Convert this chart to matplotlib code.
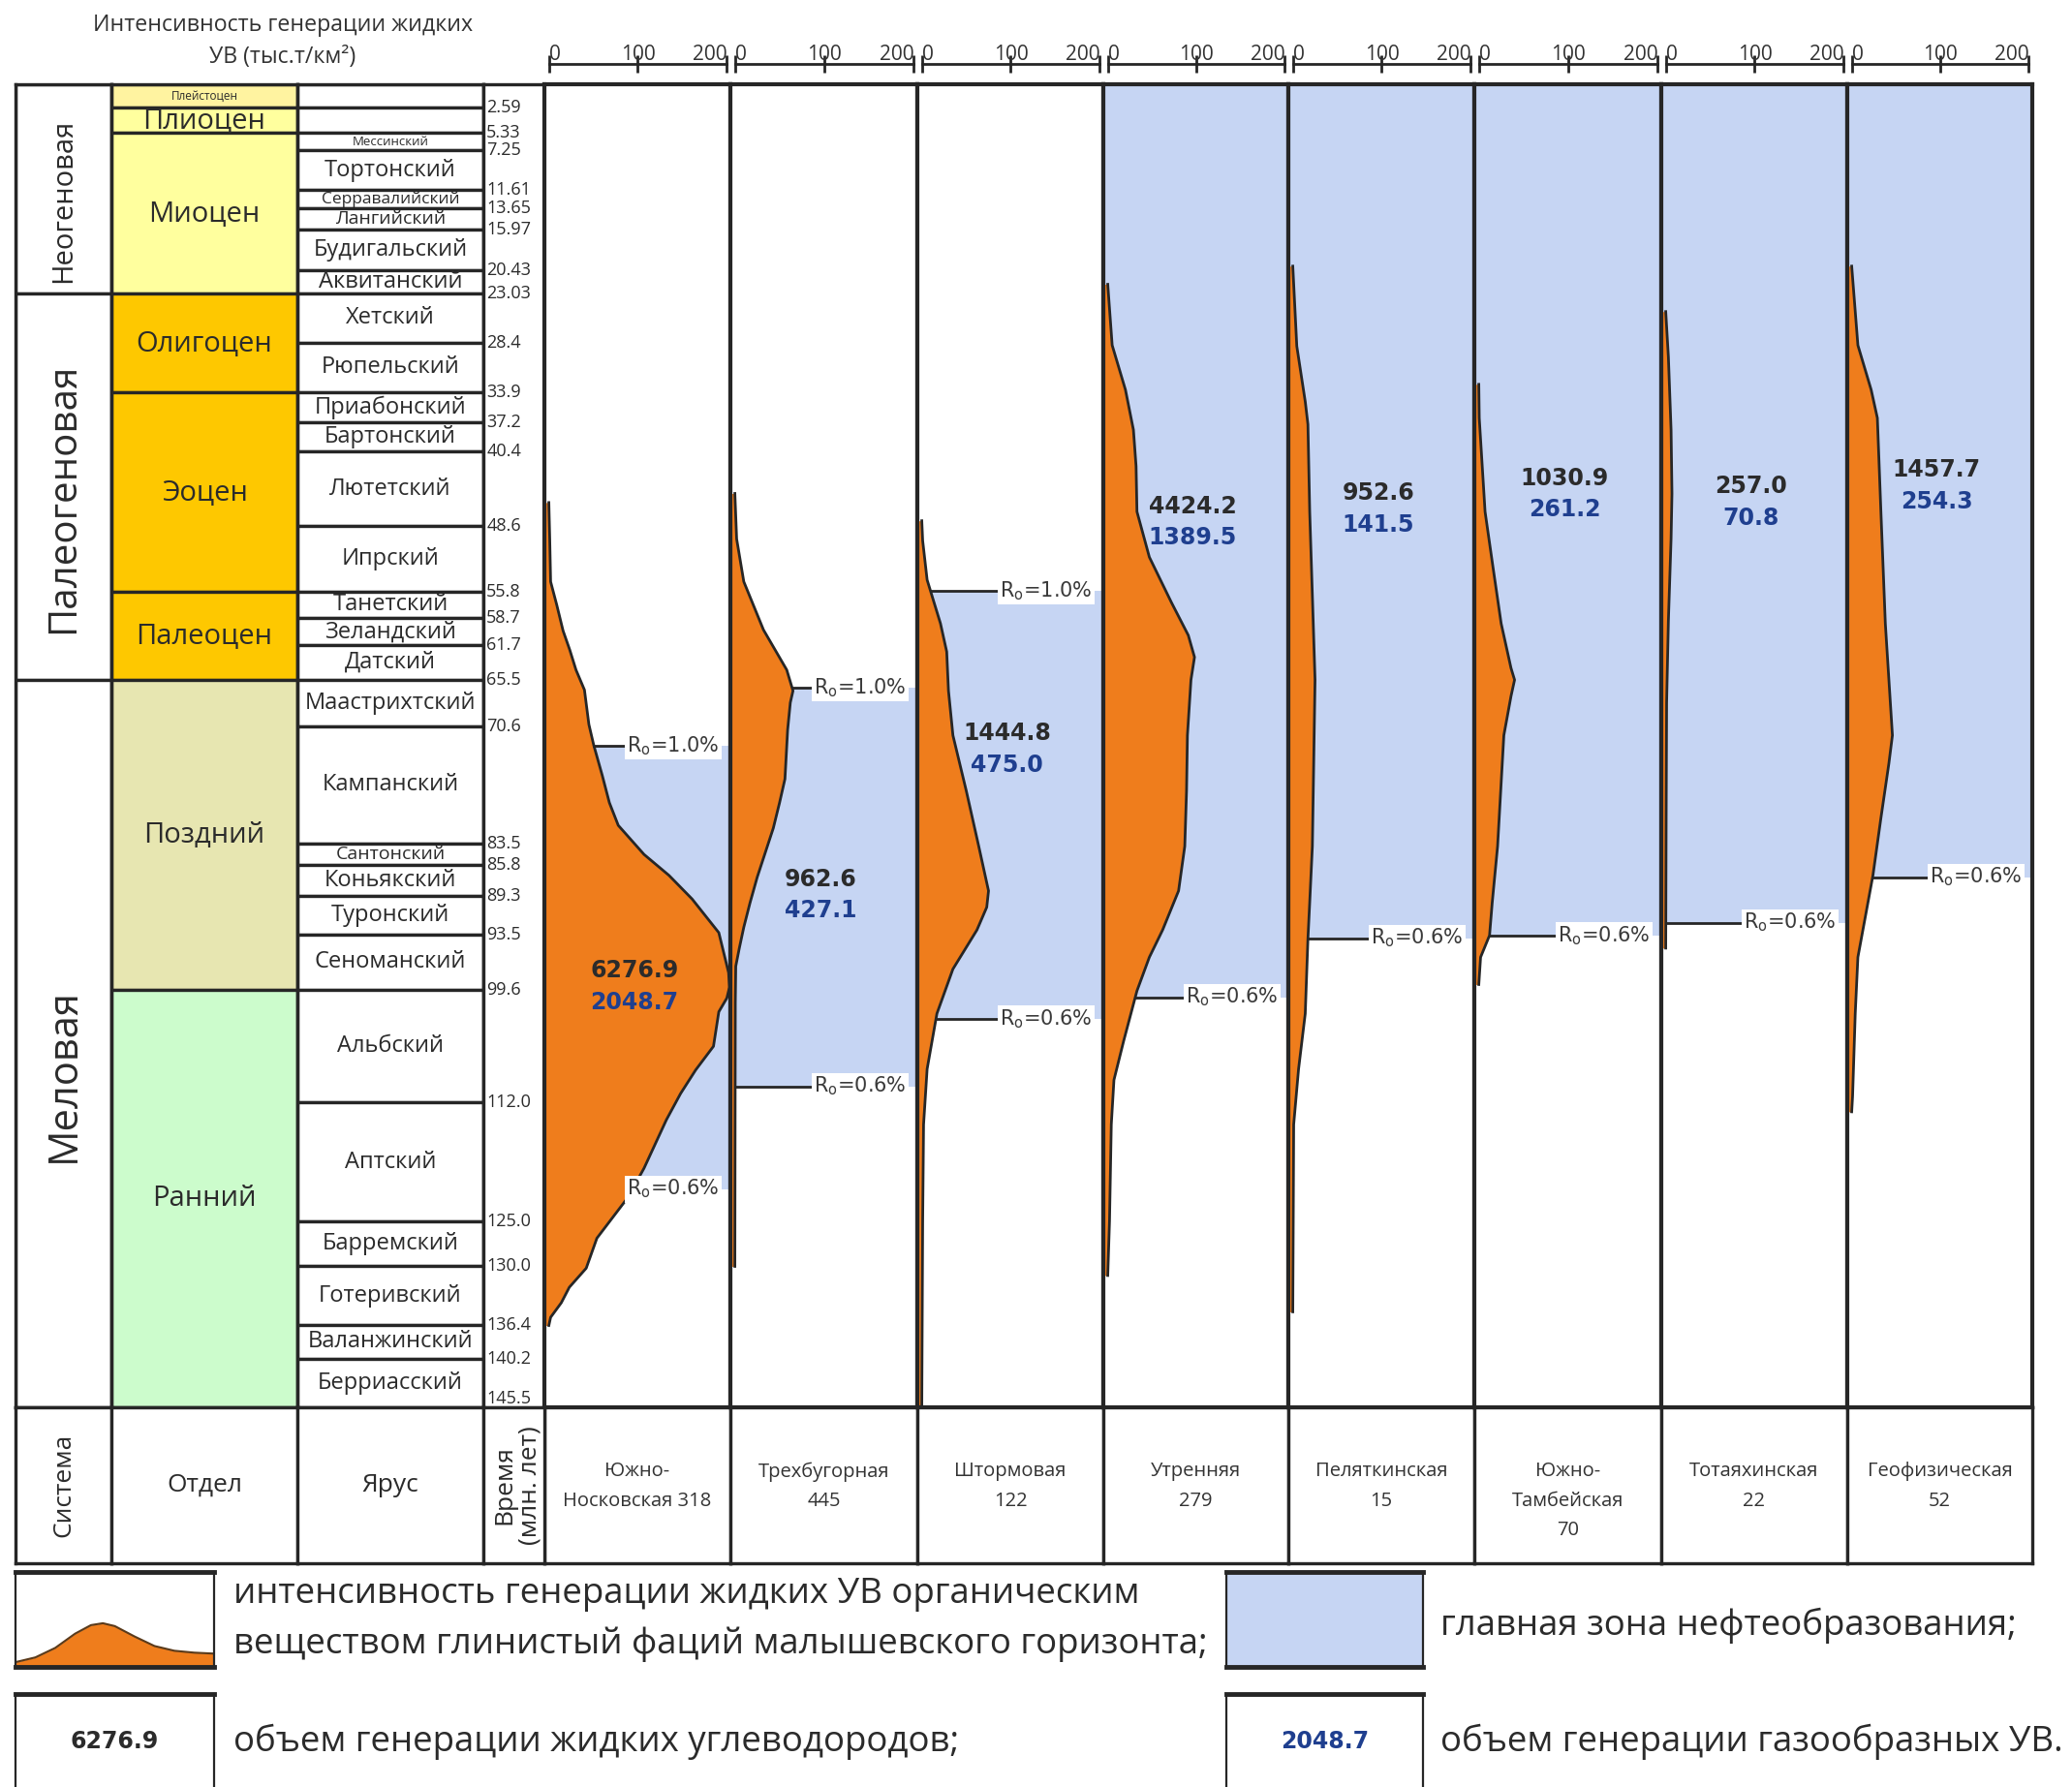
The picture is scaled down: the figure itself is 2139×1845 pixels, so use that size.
import numpy as np
import matplotlib
matplotlib.use('Agg')
import matplotlib.pyplot as plt

plt.rcParams['font.family'] = ['Open Sans', 'DejaVu Sans']

# ---------- данные: стратиграфия ----------
system_names = ['Неогеновая', 'Палеогеновая', 'Меловая']
system_bounds = [0, 23.03, 65.5, 145.5]

series_names = ['Плейстоцен', 'Плиоцен', 'Миоцен', 'Олигоцен', 'Эоцен',
                'Палеоцен', 'Поздний', 'Ранний']
series_bounds = [0, 2.59, 5.33, 23.03, 33.9, 55.8, 65.5, 99.6, 145.5]
series_colors = ['#fff3a0', '#ffff9e', '#ffff9e', '#fec800', '#fec800',
                 '#fec800', '#e7e6b1', '#ccfccc']

stage_names = ['', '', 'Мессинский', 'Тортонский', 'Серравалийский', 'Лангийский',
               'Будигальский', 'Аквитанский', 'Хетский', 'Рюпельский', 'Приабонский',
               'Бартонский', 'Лютетский', 'Ипрский', 'Танетский', 'Зеландский', 'Датский',
               'Маастрихтский', 'Кампанский', 'Сантонский', 'Коньякский', 'Туронский',
               'Сеноманский', 'Альбский', 'Аптский', 'Барремский', 'Готеривский',
               'Валанжинский', 'Берриасский']
stage_bounds = [0, 2.59, 5.33, 7.25, 11.61, 13.65, 15.97, 20.43, 23.03, 28.4, 33.9,
                37.2, 40.4, 48.6, 55.8, 58.7, 61.7, 65.5, 70.6, 83.5, 85.8, 89.3, 93.5,
                99.6, 112.0, 125.0, 130.0, 136.4, 140.2, 145.5]
age_labels = ['2.59', '5.33', '7.25', '11.61', '13.65', '15.97', '20.43', '23.03',
              '28.4', '33.9', '37.2', '40.4', '48.6', '55.8', '58.7', '61.7', '65.5',
              '70.6', '83.5', '85.8', '89.3', '93.5', '99.6', '112.0', '125.0', '130.0',
              '136.4', '140.2', '145.5']

# ---------- данные: скважины ----------
well_names = ['Южно-\nНосковская 318', 'Трехбугорная\n445', 'Штормовая\n122',
              'Утренняя\n279', 'Пеляткинская\n15', 'Южно-\nТамбейская\n70',
              'Тотаяхинская\n22', 'Геофизическая\n52']
liquid_vol = [6276.9, 962.6, 1444.8, 4424.2, 952.6, 1030.9, 257.0, 1457.7]
gas_vol = [2048.7, 427.1, 475.0, 1389.5, 141.5, 261.2, 70.8, 254.3]
ro10 = [72.8, 66.4, 55.7, None, None, None, None, None]   # Ro=1.0%, млн лет
ro06 = [121.5, 110.2, 102.8, 100.4, 93.9, 93.6, 92.2, 87.2]  # Ro=0.6%, млн лет
scale_ticks = [0, 100, 200]

# интенсивность генерации (тыс.т/км2) по возрасту (млн лет)
ages1 = [46, 50, 54.7, 57.3, 60.1, 62.2, 64.4, 66.6, 70.4, 72.7, 76, 79, 81.5, 84.7,
         87, 89.6, 93.3, 97.7, 99.3, 100.5, 102, 105.8, 108.4, 111, 113.9, 119.2,
         122.4, 126.9, 130.2, 132.3, 134, 135.6, 136.5]
vals1 = [0, 1, 2, 9, 16, 23.5, 30.5, 40, 45, 50.5, 60, 68, 78, 107, 135, 161, 191, 202,
         203, 200, 191, 185, 165, 148, 132, 107, 89, 54, 42, 23, 14, 2, 0]
ages2 = [45, 50, 54.7, 60, 64.4, 66.7, 68, 71, 76.4, 79, 81.8, 84.5, 87.2, 90, 92.7,
         95, 97, 101, 130]
vals2 = [0, 2, 10, 32, 58, 65, 62, 59, 56, 50, 43, 34, 25, 17, 10, 5, 1, 0.5, 0]
ages3 = [48, 50.2, 54.5, 59.3, 62.4, 66.7, 71.6, 77.7, 83.8, 88.7, 90.5, 93, 97.3,
         102.2, 108.3, 114.4, 125, 145.5]
vals3 = [0, 1, 6, 21, 28, 30, 35, 50, 64, 75, 73, 62, 35, 17, 6, 2, 1, 0]
ages4 = [22, 28.7, 33.6, 38, 42, 47, 52, 57, 60.6, 63, 65.5, 71.6, 77.7, 83.8, 88.7,
         93, 96, 99.7, 105.2, 109.5, 114.4, 125, 131]
vals4 = [0, 5, 20, 29, 32, 33, 47, 72, 91, 98, 94, 90, 89, 87, 80, 62, 47, 33, 18, 7,
         4, 2, 0]
ages5 = [20, 28.8, 34.9, 37.4, 47, 59.3, 65.5, 71.6, 83.8, 90, 94, 102.2, 108.3,
         114.4, 125, 135]
vals5 = [0, 4.5, 14, 17, 19, 23, 25, 24, 22, 19, 17, 14, 6.5, 1, 0.5, 0]
ages6 = [33, 36.7, 47, 53.2, 59.3, 64.2, 65.5, 67.3, 71.6, 83.8, 90, 93.6, 96, 99]
vals6 = [0, 0.5, 7, 16, 25, 36, 40, 36, 28, 21, 15, 12, 2, 0]
ages7 = [25, 30, 38, 45, 50, 59, 68, 80, 95]
vals7 = [0, 3, 6, 7, 6, 3, 1, 0.5, 0]
ages8 = [20, 28.7, 33.6, 36.7, 47, 59.3, 71.6, 74.7, 80.7, 87, 96, 102.2, 111.3, 113]
vals8 = [0, 7, 22, 29, 33, 38, 46, 42, 33, 24, 7, 4, 1, 0]

well_ages = [ages1, ages2, ages3, ages4, ages5, ages6, ages7, ages8]
well_vals = [vals1, vals2, vals3, vals4, vals5, vals6, vals7, vals8]

# значок легенды (условная кривая)
icon_x = [0, 0.1, 0.2, 0.3, 0.38, 0.44, 0.5, 0.6, 0.7, 0.8, 0.9, 1.0]
icon_y = [0.05, 0.1, 0.2, 0.35, 0.44, 0.46, 0.43, 0.32, 0.22, 0.17, 0.15, 0.14]

# ---------- оформление ----------
orange = '#ef7d1c'
blue_zone = '#c6d5f3'
line_c = '#262626'
text_c = '#2b2b2b'
gas_c = '#1f3f8f'
AGE_MAX = 145.5

W, H = 2139, 1845
fig = plt.figure(figsize=(W / 100, H / 100), dpi=100)

Y_TOP, Y_MID, Y_BOT = 87, 1453, 1614
col_x = [16, 115, 307, 499, 562]
panel_x = [562, 754, 947, 1139, 1330, 1522, 1715, 1907, 2098]
label_x = 88        # начало подписи Ro в единицах шкалы
num_x = 96          # центр подписей объемов
num_age = [97.5, 87.4, 71.4, 46.4, 45.0, 43.3, 44.2, 42.4]
system_label_age = [12.8, 45.5, 109]


def add_ax(x0, y0, x1, y1):
    return fig.add_axes([x0 / W, 1 - y1 / H, (x1 - x0) / W, (y1 - y0) / H])


def frame(ax, lw=2.4):
    ax.set_xticks([])
    ax.set_yticks([])
    for s in ax.spines.values():
        s.set_linewidth(lw)
        s.set_color(line_c)


def strat_ax(x0, x1):
    ax = add_ax(x0, Y_TOP, x1, Y_MID)
    ax.set_xlim(0, 1)
    ax.set_ylim(AGE_MAX, 0)
    frame(ax)
    return ax


def column(ax, names, bounds, colors, sizes, rot=0, default_fs=17, label_at=None):
    for j, name in enumerate(names):
        t, b = bounds[j], bounds[j + 1]
        ax.barh((t + b) / 2, 1, height=b - t, left=0, color=colors[j],
                edgecolor=line_c, linewidth=2.4)
        if name:
            y = label_at[j] if label_at else (t + b) / 2
            ax.text(0.5, y, name, rotation=rot, ha='center', va='center',
                    fontsize=sizes.get(name, default_fs), color=text_c)


# Система
ax = strat_ax(col_x[0], col_x[1])
column(ax, system_names, system_bounds, ['white'] * 3,
       {'Неогеновая': 21, 'Палеогеновая': 29, 'Меловая': 30}, rot=90,
       label_at=system_label_age)
# Отдел
ax = strat_ax(col_x[1], col_x[2])
column(ax, series_names, series_bounds, series_colors, {'Плейстоцен': 8.5},
       default_fs=21)
# Ярус
ax = strat_ax(col_x[2], col_x[3])
column(ax, stage_names, stage_bounds, ['white'] * len(stage_names),
       {'Мессинский': 9.5, 'Серравалийский': 12.5, 'Лангийский': 14,
        'Сантонский': 14})
# Время
ax = strat_ax(col_x[3], col_x[4])
for lab, age in zip(age_labels, stage_bounds[1:]):
    ax.text(0.05, age, lab, ha='left', va='bottom' if age == AGE_MAX else 'center',
            fontsize=13, color=text_c)

# ---------- колонки скважин ----------
for i in range(8):
    ages, vals = well_ages[i], well_vals[i]
    ax = add_ax(panel_x[i], Y_TOP, panel_x[i + 1], Y_MID)
    ax.set_xlim(-5, 204)
    ax.set_ylim(AGE_MAX, 0)
    frame(ax, lw=3)
    top = ro10[i] if ro10[i] is not None else 0
    ax.axhspan(top, ro06[i], color=blue_zone, lw=0, zorder=1)
    ax.fill_betweenx(ages, -5, vals, color=orange, lw=0, zorder=2)
    ax.plot(vals, ages, color=line_c, lw=2, zorder=3)
    for ro, txt in ((ro10[i], '1.0'), (ro06[i], '0.6')):
        if ro is None:
            continue
        x0 = np.interp(ro, ages, vals, left=0, right=0)
        if x0 < label_x:
            ax.plot([x0, label_x], [ro, ro], color=line_c, lw=2, zorder=4)
        ax.text(label_x, ro, r'R$_\mathregular{o}$=' + txt + '%', ha='left',
                va='center', fontsize=15, color='#3a3a3a', family='DejaVu Sans',
                zorder=5, bbox=dict(facecolor='white', edgecolor='none', pad=1.5))
    ax.text(num_x, num_age[i], f'{liquid_vol[i]:.1f}', ha='center', va='center',
            fontsize=17, fontweight='bold', family='DejaVu Sans', color=text_c,
            zorder=6)
    ax.text(num_x, num_age[i] + 3.5, f'{gas_vol[i]:.1f}', ha='center', va='center',
            fontsize=17, fontweight='bold', family='DejaVu Sans', color=gas_c,
            zorder=6)

    # шкала интенсивности сверху
    sc = add_ax(panel_x[i], 66, panel_x[i + 1], 72)
    sc.set_xlim(-5, 204)
    sc.patch.set_visible(False)
    for k in ('left', 'right', 'bottom'):
        sc.spines[k].set_visible(False)
    sc.spines['top'].set_bounds(0, 200)
    sc.spines['top'].set_linewidth(2)
    sc.spines['top'].set_color(line_c)
    sc.xaxis.tick_top()
    sc.set_xticks(scale_ticks)
    sc.set_yticks([])
    sc.tick_params(axis='x', direction='inout', length=13, width=2, pad=-7,
                   labelsize=15, colors=line_c, labelcolor='#333333')
    tl = sc.get_xticklabels()
    tl[0].set_ha('left')
    tl[-1].set_ha('right')

    # подпись скважины
    cb = add_ax(panel_x[i], Y_MID, panel_x[i + 1], Y_BOT)
    frame(cb)
    cb.text(0.5, 0.65, well_names[i], ha='center', va='top', fontsize=14.5,
            linespacing=1.7, color='#333333', transform=cb.transAxes)

# нижняя строка стратиграфической части
bottom_titles = ['Система', 'Отдел', 'Ярус', 'Время\n(млн. лет)']
bottom_rot = [90, 0, 0, 90]
bottom_fs = [19, 19, 19, 19]
for j in range(4):
    cb = add_ax(col_x[j], Y_MID, col_x[j + 1], Y_BOT)
    frame(cb)
    cb.text(0.5 if j < 3 else 0.56, 0.5, bottom_titles[j], rotation=bottom_rot[j],
            ha='center', va='center', fontsize=bottom_fs[j], color=text_c,
            linespacing=1.05, transform=cb.transAxes, clip_on=False)

# заголовок шкалы
fig.text(292 / W, 1 - 26 / H, 'Интенсивность генерации жидких', ha='center',
         va='center', fontsize=16.7, color='#333333')
fig.text(292 / W, 1 - 59 / H, 'УВ (тыс.т/км²)', ha='center', va='center',
         fontsize=16.7, color='#333333')

# ---------- легенда ----------
def legend_box(x0, y0, x1, y1, fc='white'):
    ax = add_ax(x0, y0, x1, y1)
    ax.set_xlim(0, 1)
    ax.set_ylim(0, 1)
    ax.set_facecolor(fc)
    frame(ax, lw=1.6)
    ax.spines['top'].set_linewidth(3.5)
    ax.spines['bottom'].set_linewidth(3.5)
    return ax

lg = legend_box(16, 1623, 221, 1721)
lg.fill_between(icon_x, 0, icon_y, color=orange, lw=0)
lg.plot(icon_x, icon_y, color='#5a3a1a', lw=1.5)
legend_box(1266, 1623, 1469, 1721, fc=blue_zone)
lg = legend_box(16, 1749, 221, 1860)
lg.text(0.5, 0.56, f'{liquid_vol[0]:.1f}', ha='center', va='center', fontsize=17,
        fontweight='bold', family='DejaVu Sans', color=text_c)
lg = legend_box(1266, 1749, 1469, 1860)
lg.text(0.5, 0.56, f'{gas_vol[0]:.1f}', ha='center', va='center', fontsize=17,
        fontweight='bold', family='DejaVu Sans', color=gas_c)

leg_fs = 26.4
fig.text(241 / W, 1 - 1646 / H, 'интенсивность генерации жидких УВ органическим',
         va='center', fontsize=leg_fs, color=text_c)
fig.text(241 / W, 1 - 1698 / H, 'веществом глинистый фаций малышевского горизонта;',
         va='center', fontsize=leg_fs, color=text_c)
fig.text(1487 / W, 1 - 1678 / H, 'главная зона нефтеобразования;', va='center',
         fontsize=leg_fs, color=text_c)
fig.text(241 / W, 1 - 1798 / H, 'объем генерации жидких углеводородов;',
         va='center', fontsize=leg_fs, color=text_c)
fig.text(1487 / W, 1 - 1798 / H, 'объем генерации газообразных УВ.', va='center',
         fontsize=leg_fs, color=text_c)

fig.savefig('out.png', dpi=100, facecolor='white')
